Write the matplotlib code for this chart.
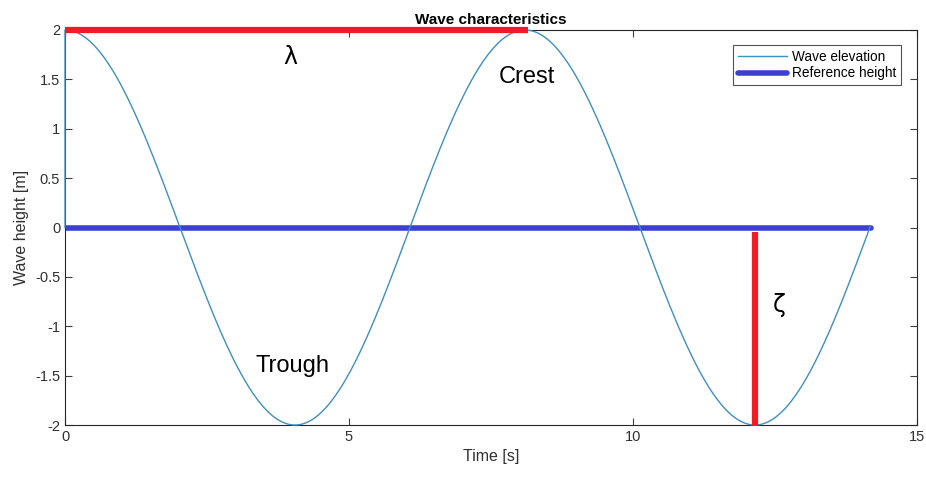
import numpy as np
import matplotlib
matplotlib.use("Agg")
import matplotlib.pyplot as plt

# Wave parameters
wave_amplitude = 2.0      # m
wave_period = 8.1         # s
t_end = 14.18             # s

# Reference (still water) level
ref_t = [0.0, 14.2]
ref_h = [0.0, 0.0]

# Wavelength marker (crest to crest) and elevation marker (trough depth)
lambda_t = [0.0, 8.15]
lambda_h = [2.0, 2.0]
zeta_t = [12.15, 12.15]
zeta_h = [-0.05, -2.0]

# Annotations: text, x, y
labels = [("λ", 3.96, 1.73), ("Crest", 8.13, 1.52), ("Trough", 4.01, -1.40), ("ζ", 12.57, -0.78)]

x_ticks = [0, 5, 10, 15]
y_ticks = [-2, -1.5, -1, -0.5, 0, 0.5, 1, 1.5, 2]

t = np.linspace(0, t_end, 600)
h = wave_amplitude * np.cos(2 * np.pi * t / wave_period)
t = np.concatenate([[0.0], t])
h = np.concatenate([[0.0], h])

plt.rcParams['font.family'] = ['Liberation Sans', 'DejaVu Sans']

fig = plt.figure(figsize=(9.26, 4.79), dpi=100)
ax = fig.add_axes([0.0702, 0.1127, 0.9198, 0.8247])

wave_col = '#3f8fc0'
ref_col = '#3d3fd4'
red_col = '#ee1c25'

ax.plot(t, h, color=wave_col, lw=1.0, label='Wave elevation', zorder=3, clip_on=False)
ax.plot(ref_t, ref_h, color=ref_col, lw=4, solid_capstyle='round', label='Reference height', zorder=2)
ax.plot(lambda_t, lambda_h, color=red_col, lw=4.5, solid_capstyle='butt', zorder=4, clip_on=False)
ax.plot(zeta_t, zeta_h, color=red_col, lw=4.5, solid_capstyle='butt', zorder=4)

for txt, x, y in labels:
    ax.text(x, y, txt, fontsize=17, ha='center', va='center', color='black',
            family=['DejaVu Sans'] if txt in ('λ', 'ζ') else None)

ax.set_xlim(0, 15)
ax.set_ylim(-2, 2)
ax.set_xticks(x_ticks)
ax.set_yticks(y_ticks)
ax.set_yticklabels([f"{v:g}" for v in y_ticks])
ax.tick_params(direction='in', top=True, right=True, labelsize=10.5, colors='#404040',
               length=5, width=0.8, labelcolor='#303030')
for s in ax.spines.values():
    s.set_color('#262626')
    s.set_linewidth(0.8)

ax.set_xlabel('Time [s]', fontsize=11.5, color='#303030', labelpad=4)
ax.set_ylabel('Wave height [m]', fontsize=11.5, color='#303030', labelpad=4)
ax.set_title('Wave characteristics', fontsize=11, fontweight='bold', pad=4)

leg = ax.legend(loc='upper right', bbox_to_anchor=(0.981, 0.962), fontsize=9.8, frameon=True,
                fancybox=False, edgecolor='#262626', handlelength=3.6, handletextpad=0.35,
                borderpad=0.35, labelspacing=0.2, borderaxespad=0)
leg.get_frame().set_linewidth(0.8)

fig.savefig('out.png', dpi=100)
